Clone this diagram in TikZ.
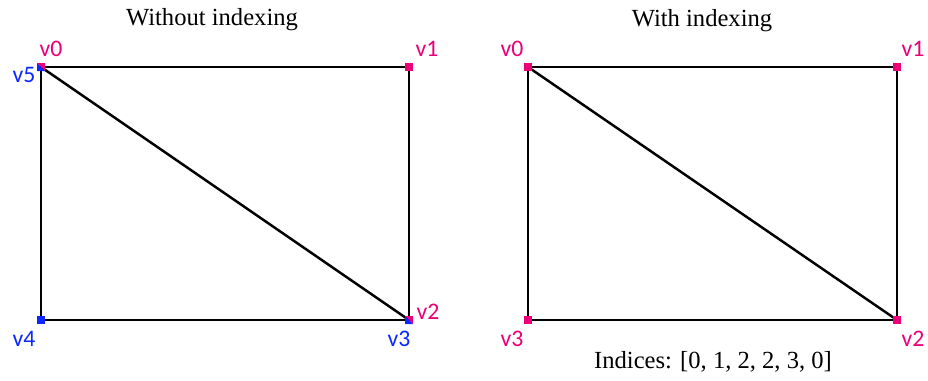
\documentclass[tikz,border=0pt]{standalone}
\usepackage{fontspec}
\setmainfont{Liberation Serif}
\newfontfamily\labelfont{Carlito}
\usetikzlibrary{calc, positioning}
\definecolor{vertPink}{RGB}{235,0,120}
\definecolor{vertBlue}{RGB}{10,40,255}

\begin{document}
\begin{tikzpicture}[
  x=0.02cm, y=-0.02cm,
  edge/.style={draw=black, line width=1.4pt},
  vlabel/.style={font=\labelfont\fontsize{13.5}{14}\selectfont, inner sep=0pt},
  title/.style={font=\fontsize{14}{16}\selectfont, inner sep=0pt},
]
\useasboundingbox (0,0) rectangle (928,380);
\def\sq{4}   % half size of a vertex marker

% Titles
\node[title] (titleA) at (212,20){Without indexing};
\node[title] (titleB) at (702,21){With indexing};

% Left rectangle: six vertices, two triangles
\coordinate (a0) at (41,67);
\coordinate (a1) at (409,67);
\coordinate (a2) at (409,320);
\coordinate (a4) at (41,320);
\draw[edge] (a0) -- (a1) -- (a2) -- (a4) -- cycle;
\draw[edge] (a0) -- (a2);

% Right rectangle: four vertices
\coordinate (b0) at (528,67);
\coordinate (b1) at (897,67);
\coordinate (b2) at (897,320);
\coordinate (b3) at (528,320);
\draw[edge] (b0) -- (b1) -- (b2) -- (b3) -- cycle;
\draw[edge] (b0) -- (b2);

% Vertex markers (shared corners split pink / blue)
\fill[vertPink] (a0) ++(-\sq,-\sq) -- ++(2*\sq,0) -- ++(0,2*\sq) -- cycle;
\fill[vertBlue] (a0) ++(-\sq,-\sq) -- ++(0,2*\sq) -- ++(2*\sq,0) -- cycle;
\fill[vertPink] (a1) ++(-\sq,-\sq) rectangle ++(2*\sq,2*\sq);
\fill[vertPink] (a2) ++(-\sq,-\sq) -- ++(2*\sq,0) -- ++(0,2*\sq) -- cycle;
\fill[vertBlue] (a2) ++(-\sq,-\sq) -- ++(0,2*\sq) -- ++(2*\sq,0) -- cycle;
\fill[vertBlue] (a4) ++(-\sq,-\sq) rectangle ++(2*\sq,2*\sq);
\foreach \v in {b0,b1,b2,b3}
  \fill[vertPink] (\v) ++(-\sq,-\sq) rectangle ++(2*\sq,2*\sq);

% Vertex labels, left
\node[vlabel, vertPink] (la0) at (51,49){v0};
\node[vlabel, vertBlue] (la5) at (24,75){v5};
\node[vlabel, vertPink] (la1) at (427,49){v1};
\node[vlabel, vertPink] (la2) at (428,312){v2};
\node[vlabel, vertBlue] (la3) at (399,339){v3};
\node[vlabel, vertBlue] (la4) at (24,339){v4};

% Vertex labels, right
\node[vlabel, vertPink] (lb0) at (512,49){v0};
\node[vlabel, vertPink] (lb1) at (913,49){v1};
\node[vlabel, vertPink] (lb2) at (913,339){v2};
\node[vlabel, vertPink] (lb3) at (512,339){v3};

% Index buffer
\node[title] (indices) at (713,362){Indices: [0, 1, 2, 2, 3, 0]};

\end{tikzpicture}
\end{document}
